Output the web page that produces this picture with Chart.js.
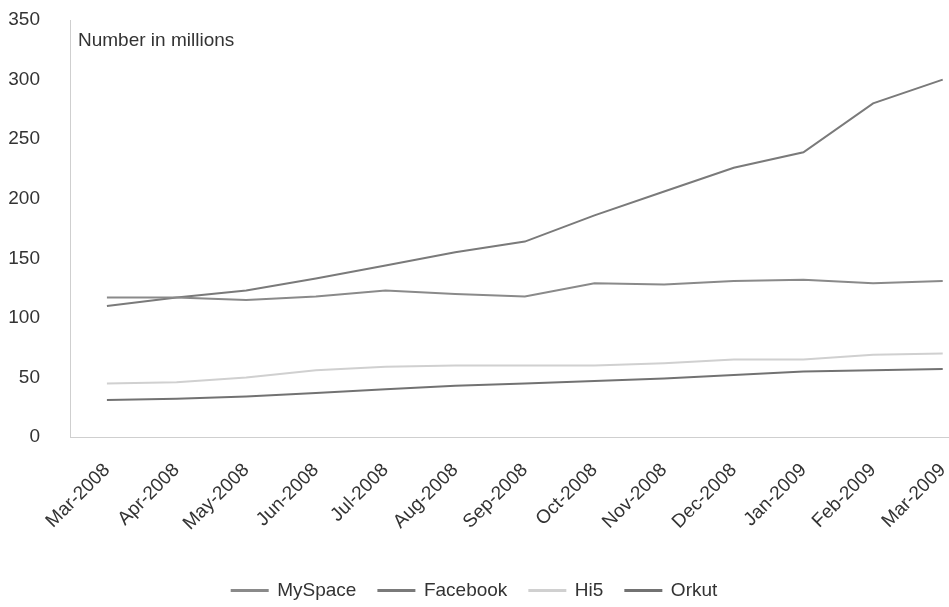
<!DOCTYPE html>
<html>
<head>
<meta charset="utf-8">
<script src="https://cdn.jsdelivr.net/npm/chart.js@4/dist/chart.umd.min.js"></script>
<style>
  html, body { margin: 0; padding: 0; background: #ffffff; }
  #wrap { width: 949px; height: 607px; }
</style>
</head>
<body>
<div id="wrap"><canvas id="c" width="949" height="607"></canvas></div>
<script>
const months = ["Mar-2008","Apr-2008","May-2008","Jun-2008","Jul-2008","Aug-2008","Sep-2008","Oct-2008","Nov-2008","Dec-2008","Jan-2009","Feb-2009","Mar-2009"];
const mySpace = [117,117,115,118,123,120,118,129,128,131,132,129,131];
const facebook = [110,117,123,133,144,155,164,186,206,226,239,280,300];
const hi5 = [45,46,50,56,59,60,60,60,62,65,65,69,70];
const orkut = [31,32,34,37,40,43,45,47,49,52,55,56,57];
const yTicks = [0,50,100,150,200,250,300,350];
const axisTitle = "Number in millions";

const FONT = "'Liberation Sans', Arial, sans-serif";
const toPts = arr => arr.map((v, i) => ({ x: i, y: v }));

const noteText = {
  id: 'noteText',
  afterDraw(chart) {
    const { ctx, chartArea } = chart;
    ctx.save();
    ctx.font = "19px " + FONT;
    ctx.fillStyle = "#333333";
    ctx.textBaseline = "middle";
    ctx.textAlign = "left";
    ctx.fillText(axisTitle, chartArea.left + 8, chartArea.top + 21);
    ctx.restore();
  }
};

new Chart(document.getElementById('c'), {
  type: 'line',
  data: {
    datasets: [
      { label: 'MySpace', data: toPts(mySpace), borderColor: '#8a8a8a', backgroundColor: '#8a8a8a' },
      { label: 'Facebook', data: toPts(facebook), borderColor: '#7a7a7a', backgroundColor: '#7a7a7a' },
      { label: 'Hi5', data: toPts(hi5), borderColor: '#d0d0d0', backgroundColor: '#d0d0d0' },
      { label: 'Orkut', data: toPts(orkut), borderColor: '#727272', backgroundColor: '#727272' }
    ]
  },
  options: {
    responsive: false,
    animation: false,
    devicePixelRatio: 1,
    layout: { padding: { top: 20, right: 0, bottom: 0, left: 0 } },
    elements: {
      line: { borderWidth: 2, tension: 0 },
      point: { radius: 0 }
    },
    plugins: {
      legend: {
        position: 'bottom',
        maxHeight: 48,
        labels: {
          font: { family: FONT, size: 19 },
          color: '#333333',
          boxWidth: 36,
          boxHeight: 1,
          padding: 22
        }
      },
      tooltip: { enabled: false }
    },
    scales: {
      x: {
        type: 'linear',
        min: -0.53,
        max: 12.09,
        grid: { display: false },
        border: { display: true, color: '#cfcfcf', dash: [2, 3], width: 1 },
        ticks: {
          stepSize: 1,
          includeBounds: false,
          autoSkip: false,
          maxRotation: 45,
          minRotation: 45,
          padding: 14,
          color: '#333333',
          font: { family: FONT, size: 19 },
          callback: (v) => Number.isInteger(v) ? months[v] : ''
        },
        afterFit(scale) {
          scale.paddingLeft = 0;
          scale.paddingRight = 0;
          scale.height = 122;
        }
      },
      y: {
        min: 0,
        max: 350,
        grid: { display: false },
        border: { display: true, color: '#cfcfcf', dash: [2, 3], width: 1 },
        afterBuildTicks(scale) {
          scale.ticks = yTicks.map(v => ({ value: v }));
        },
        ticks: {
          padding: 22,
          color: '#333333',
          font: { family: FONT, size: 19 }
        },
        afterFit(scale) {
          scale.width = 70;
          scale.paddingTop = 0;
          scale.paddingBottom = 0;
        }
      }
    }
  },
  plugins: [noteText]
});
</script>
</body>
</html>
